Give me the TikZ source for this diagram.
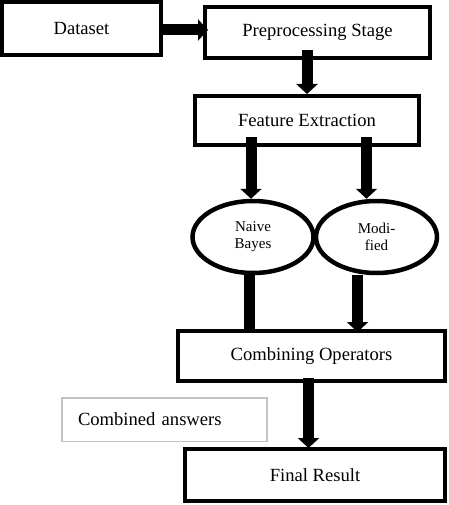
\documentclass[tikz,border=0pt]{standalone}
\usepackage{fontspec}
\setmainfont{Liberation Serif}
\usetikzlibrary{shapes.geometric, arrows.meta, positioning, calc}
\definecolor{notegray}{RGB}{195,195,195}

\begin{document}
\begin{tikzpicture}[x=1pt, y=-1pt,
  box/.style={rectangle, draw=black, line width=4pt, fill=white, inner sep=0pt, align=center, font=\fontsize{18.6}{21}\selectfont},
  algo/.style={ellipse, draw=black, line width=4.5pt, fill=white, inner sep=0pt, minimum width=121pt, minimum height=72pt, align=center, font=\fontsize{15}{17}\selectfont},
  note/.style={rectangle, draw=notegray, line width=1.5pt, text width=173pt, inner xsep=16pt, inner ysep=0pt, minimum height=43.5pt, align=left, font=\fontsize{18.6}{21}\selectfont},
  arr/.style={-{Triangle[width=21pt, length=10pt]}, line width=11pt},
  bar/.style={line width=11pt}
]
\useasboundingbox (0,0) rectangle (448,505);
\node[box, minimum width=159pt, minimum height=53pt] (data) at (81.5,28.5) {Dataset};
\node[box, minimum width=225pt, minimum height=51pt] (pre) at (317.5,32.5) {Preprocessing Stage};
\node[box, minimum width=224pt, minimum height=49pt] (feat) at (307,120.5) {Feature Extraction};
\node[algo] (nb) at (253,237) {Naive\\Bayes};
\node[algo] (mod) at (376.5,237) {Modi-\\fied};
\node[box, minimum width=267pt, minimum height=50pt] (comb) at (311.5,356) {Combining Operators};
\node[note] (ans) at (164.5,419.5) {Combined answers};
\node[box, minimum width=260pt, minimum height=52pt] (fin) at (315,475) {Final Result};
\draw[arr] ($(data.east)+(-4,1.5)$) -- ($(pre.west |- data.east)+(5,1.5)$);
\draw[arr] ($(pre.south -| feat.north)+(0,-10)$) -- (feat.north);
\draw[arr] ($(feat.south -| nb.north)+(-2,-10)$) -- ($(nb.north)+(-2,0)$);
\draw[arr] ($(feat.south -| mod.north)+(-10,-10)$) -- ($(mod.north)+(-10,0)$);
\draw[bar] ($(nb.south)+(-4,0)$) -- ($(comb.north -| nb.south)+(-4,1)$);
\draw[arr] ($(mod.south)+(-19,0)$) -- ($(comb.north -| mod.south)+(-19,3)$);
\draw[arr] ($(comb.south)+(-3,-5)$) -- ($(fin.north -| comb.south)+(-3,1)$);
\end{tikzpicture}
\end{document}
